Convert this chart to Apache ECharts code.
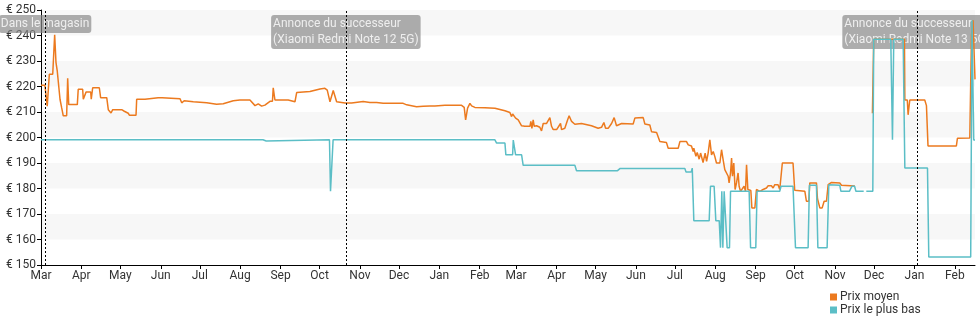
<!DOCTYPE html>
<html>
<head>
<meta charset="utf-8">
<script src="https://cdn.jsdelivr.net/npm/echarts@6/dist/echarts.min.js"></script>
<style>
html,body{margin:0;padding:0;background:#fff;}
#chart{width:980px;height:325px;}
</style>
</head>
<body>
<div id="chart"></div>
<script>
// ---- data ----
const startYear = 2022, startMonth = 2; // 1 March 2022 = day 0
const xMaxDays = 717.5;
const monthLabels = ['Jan','Feb','Mar','Apr','May','Jun','Jul','Aug','Sep','Oct','Nov','Dec'];
const seriesNames = ['Prix moyen', 'Prix le plus bas'];

// Prix moyen (day offset from 1 Mar 2022, price)
const avgDays = [0,3,4.8,6.4,9,10.5,11.5,12.5,14.6,15.9,17.1,19.7,20.5,21.3,27.9,28.6,32,32.5,34.6,38.2,38.6,39.7,44.8,45.8,50.5,51.7,53.8,55.1,62,64,67,68,73,73.5,79.9,81.2,90,91,93,106.8,108.1,110,117,127.3,134.9,140,147.7,152.8,160.5,164.4,166.9,169.5,172,175.9,177.8,178.4,179.7,
189.9,191.2,195.1,196.4,197.6,206.6,207.9,214.3,218.1,219.9,221.2,222,223.3,224.5,225.8,227.1,228.3,233.5,238.6,247.5,252.7,257.8,262.9,268,278.2,280.9,288.5,293.6,
298.8,302.6,310.3,323.1,325.1,326.2,327.7,329.5,330.8,333.3,341,348.7,350,356.4,360.2,361.5,362.3,363.5,364.6,366.6,369.2,371.7,375.6,376.3,377.1,378.1,378.9,380.7,382,383.2,384.5,385.8,388.4,390.9,392.2,393.5,396.1,397.3,399.1,399.9,402.4,404.5,405.7,407.6,410.1,415.2,422.9,428,430.6,432.4,433.7,435.7,438.3,440.3,442.1,446,
454.9,456.2,462.6,463.9,467.7,469,472.9,475.4,480.5,481.8,489.5,490.8,495.9,497.2,499.7,501,501.5,503.1,504.1,505.6,506.7,507.5,508.6,510.2,511.3,512.5,513.8,515.1,516.4,517.6,518.9,521.5,522.8,524,525.3,526.6,527.9,528.6,529.7,530.5,531.2,532.2,533.2,534.3,535.5,536.3,537.4,538.9,540.1,541.2,542,543,544.5,545.3,546.1,548.4,549.6,550.9,552.2,554.7,557.3,558.6,561.1,562.4,563.7,566.2,567.5,568.8,569.5,577.7,579,586.8,588,589.8,590.6,595.7,596.5,598.3,600.1,601.6,603.4,604.7,607.3,613.6,614.9,625.2,
630,638.7,639.7,663.3,663.6,665.5,666.1,667.4,678.9,680.2,681.4,703.2,704,713.5,714.8,716,717.5];
const avgPrices = [220.5,220.5,212.3,224.8,224.8,240.3,229.5,226,215,211.6,208.5,208.5,223.2,212.9,212.9,218.9,218.9,215,217.8,217.8,215,219.5,219.5,215.6,215.6,210.9,209.6,210.9,210.9,210.3,209.5,208.7,208.7,215,215,215.6,215.6,215,215.6,215.2,213.6,214.4,214,213.6,213,213.2,214.4,214.7,214.7,212.5,213.2,212.3,212.7,214.2,214.2,219.5,214.7,
214.7,214,214,217.6,218,218,218.6,219,219.3,218.6,218.6,214,214,218.4,218,214,213.7,213.5,213.5,214.1,213.7,213.7,213.4,213.4,213.4,212.8,212.1,212.3,
212.4,212.4,212.6,212.6,211.8,206.9,211.5,213.4,212.4,211.8,211.7,211.5,210.8,210.5,209.8,208.2,209.2,209.5,207.6,206.9,204.6,204.4,204.4,206.3,203.6,206.9,204.4,204.6,204.6,204,202.6,205.5,205.5,207.8,204.4,203.1,203.1,203.6,205.5,203.1,203.6,206.9,208.5,206.3,205.2,205.5,204.6,203.6,204,205.9,203.6,203.6,205.5,207.8,204.6,205.5,
205.3,207.6,207.8,205.3,204.9,202.3,202,198.4,198,195.8,195.8,198.4,198.4,197.1,196.7,194.5,195.8,192.6,194.1,191.5,193.9,194.5,190.2,193.9,190.6,193.9,199.1,193.2,194.5,192.6,190,190,195.2,191.3,187.4,187.4,184.8,182.2,186.1,191.9,184.8,190,179.6,182.2,186.1,180.9,178.9,179.6,180.9,178.9,189.3,179.6,179.2,179.2,172.4,172.4,179.6,179.8,178.9,179.6,180.2,181.1,181.1,180.2,181.5,181.5,179.6,179.6,190,190,179.3,178.9,175,175,182.2,182.2,176,172.4,172.4,175,175,181.5,182.4,182.2,181.3,181,
null,209.5,238.5,238.5,214.7,214.7,208.9,214.7,214.7,212.5,196.7,196.7,199.7,199.8,240,246,222.8];

// Prix le plus bas
const lowDays = [0,170.5,171,173,173.5,221.6,222.4,223.6,224.4,348.7,350,356.4,357.1,362.3,362.8,364.1,364.6,369.2,370.4,410.1,411.4,442.9,444.7,494.6,495.5,499.5,500.3,501.5,513.3,514.3,517.1,518.4,521,522,523,523.8,524.8,526,527.1,528.9,529.7,544,545.1,549.1,550.1,567.5,568.5,577.7,579.6,589.3,590.3,595.7,596.8,603.9,605.2,613.6,614.5,621,623,625,626,632,633,634,639,639.7,652.8,654.1,655.1,662.3,663.6,681,682,714.2,715.2,716.5,717.5];
const lowPrices = [199.1,199.1,198.6,198.6,199.1,199.1,178.9,178.9,199.1,199.1,197.8,197.8,193.2,193.2,199,199,193.2,193.2,189.1,189.1,187,187,187.8,187.8,186.5,186.5,188,167.4,167.4,180.9,180.9,167.4,167.4,156.8,178.9,156.8,178.9,178.9,156.8,156.8,178.9,178.9,156.8,156.8,178.9,178.9,180.9,180.9,156.8,156.8,181.3,181.3,156.8,156.8,181.5,181.3,178.9,178.9,180.9,180.9,178.9,178.9,null,178.9,178.9,238.5,238.5,199.1,238.5,238.5,188,188,153.1,153.1,246,199,199];

// Events (annotations)
const eventDays = [3.1, 234.2, 673];
const eventLabels = ['Dans le magasin', 'Annonce du successeur\n(Xiaomi Redmi Note 12 5G)', 'Annonce du successeur\n(Xiaomi Redmi Note 13 5G)'];

// ---- build ----
const DAY = 86400000;
const t0 = new Date(startYear, startMonth, 1).getTime();
const toTime = d => t0 + d * DAY;
const pairs = (days, vals) => days.map((d, i) => [toTime(d), vals[i] == null ? null : vals[i]]);

const chart = echarts.init(document.getElementById('chart'), null, {renderer: 'canvas'});
const font = 'Roboto';
chart.setOption({
  animation: false,
  textStyle: {fontFamily: font},
  grid: {left: 41, right: 5, top: 10, bottom: 60, containLabel: false},
  xAxis: {
    type: 'time',
    min: toTime(0),
    max: toTime(xMaxDays),
    minInterval: 28 * DAY,
    maxInterval: 31 * DAY,
    axisLine: {show: true, lineStyle: {color: '#000', width: 1}},
    axisTick: {show: true, length: 4, lineStyle: {color: '#000'}},
    splitLine: {show: false},
    axisLabel: {
      color: '#333', fontSize: 12, fontFamily: font, margin: 5, hideOverlap: false,
      formatter: v => monthLabels[new Date(v).getMonth()]
    }
  },
  yAxis: {
    type: 'value', min: 150, max: 250, interval: 10,
    axisLine: {show: true, lineStyle: {color: '#000', width: 1}},
    axisTick: {show: true, length: 4, lineStyle: {color: '#000'}},
    splitLine: {show: false},
    splitArea: {show: true, areaStyle: {color: ['#ffffff', '#f7f7f7']}},
    axisLabel: {color: '#333', fontSize: 12, fontFamily: font, margin: 5, formatter: v => '€ ' + v}
  },
  legend: {
    orient: 'vertical', left: 825, top: 286, itemWidth: 7, itemHeight: 7, itemGap: 1,
    icon: 'rect', data: seriesNames,
    textStyle: {color: '#333', fontSize: 12, fontFamily: font, padding: [0, 0, 0, -2]}
  },
  series: [
    {
      name: 'events', type: 'scatter', symbolSize: 0, z: 1, silent: true,
      data: eventDays.map(d => [toTime(d), 250]),
      label: {
        show: true, position: 'bottom', distance: 5,
        formatter: p => eventLabels[p.dataIndex].split('\n').map(s => '{a|' + s + '}').join('\n'),
        backgroundColor: 'rgba(135,135,135,0.85)', borderRadius: 3, padding: [1, 2, 1, 2],
        color: '#fff', fontSize: 12, fontFamily: font, lineHeight: 16,
        rich: {a: {align: 'left', color: '#fff', fontSize: 12, fontFamily: font, lineHeight: 16}}
      },
      markLine: {
        silent: true, symbol: 'none', label: {show: false},
        lineStyle: {type: [2, 2], color: '#000', width: 1},
        data: eventDays.map(d => ({xAxis: toTime(d)}))
      }
    },
    {
      name: seriesNames[0], type: 'line', showSymbol: false, symbol: 'none', z: 2,
      color: '#ec7a1f', lineStyle: {width: 1.5, color: '#ec7a1f'},
      connectNulls: false,
      data: pairs(avgDays, avgPrices)
    },
    {
      name: seriesNames[1], type: 'line', showSymbol: false, symbol: 'none', z: 3,
      color: '#5bbec6', lineStyle: {width: 1.5, color: '#5bbec6'},
      connectNulls: false,
      data: pairs(lowDays, lowPrices)
    }
  ]
});
</script>
</body>
</html>
